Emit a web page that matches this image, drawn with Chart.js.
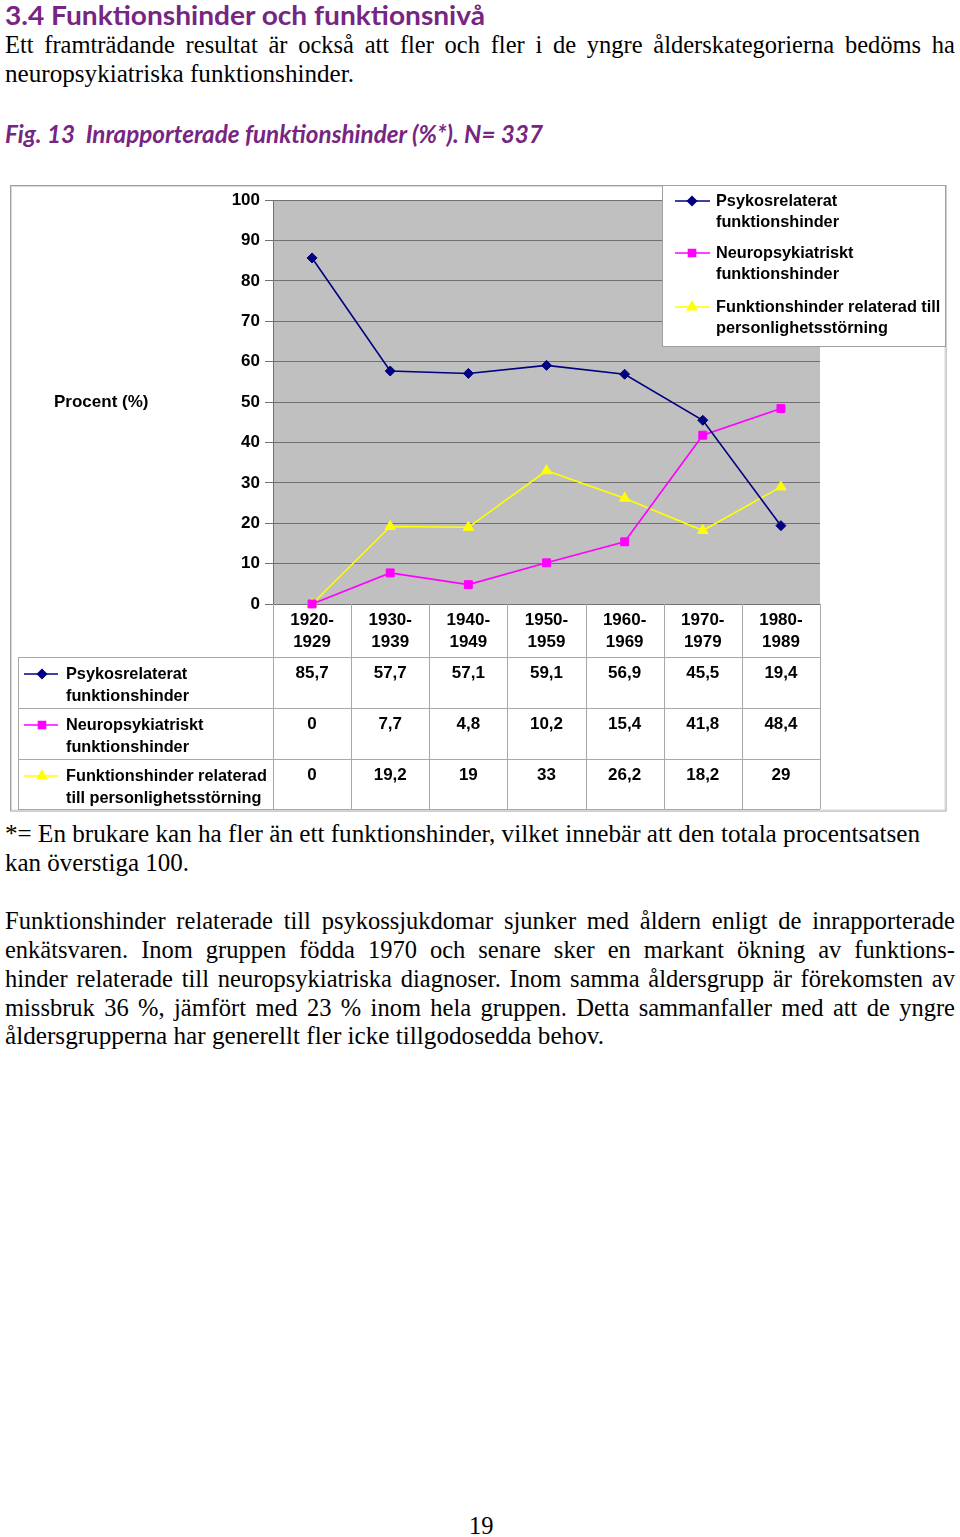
<!DOCTYPE html>
<html>
<head>
<meta charset="utf-8">
<script src="https://cdn.jsdelivr.net/npm/chart.js@4.4.0/dist/chart.umd.min.js"></script>
<style>
  html,body{margin:0;padding:0;background:#fff;}
  body{width:960px;height:1537px;position:relative;overflow:hidden;}
  .ln{position:absolute;left:5px;white-space:nowrap;line-height:1;transform-origin:0 0;}
  .serif{font-family:"Liberation Serif","Times New Roman",serif;font-size:24.5px;color:#000;}
  .head{font-family:Lato,"Open Sans",sans-serif;font-weight:700;font-size:26px;color:#772583;}
  .cap{font-family:Lato,"Open Sans",sans-serif;font-style:italic;font-weight:700;font-size:24px;color:#772583;}
  #chartBox{position:absolute;left:10px;top:185px;width:937px;height:627px;}
</style>
</head>
<body>
<div class="ln head" data-base="25" data-fit="480">3.4 Funktionshinder och funktionsnivå</div>
<div class="ln serif" data-base="54" data-just="950">Ett framträdande resultat är också att fler och fler i de yngre ålderskategorierna bedöms ha</div>
<div class="ln serif" data-base="83" data-fit="349">neuropsykiatriska funktionshinder.</div>
<div class="ln cap" data-base="143" data-fit="538">Fig. 13&nbsp; Inrapporterade funktionshinder (%*). N= 337</div>

<div id="chartBox"><canvas id="c"></canvas></div>

<div class="ln serif" data-base="843" data-fit="915">*= En brukare kan ha fler än ett funktionshinder, vilket innebär att den totala procentsatsen</div>
<div class="ln serif" data-base="872" data-fit="184">kan överstiga 100.</div>
<div class="ln serif" data-base="930" data-just="950">Funktionshinder relaterade till psykossjukdomar sjunker med åldern enligt de inrapporterade</div>
<div class="ln serif" data-base="959" data-just="950">enkätsvaren. Inom gruppen födda 1970 och senare sker en markant ökning av funktions-</div>
<div class="ln serif" data-base="988" data-just="950">hinder relaterade till neuropsykiatriska diagnoser. Inom samma åldersgrupp är förekomsten av</div>
<div class="ln serif" data-base="1017" data-just="950">missbruk 36 %, jämfört med 23 % inom hela gruppen. Detta sammanfaller med att de yngre</div>
<div class="ln serif" data-base="1045" data-fit="599">åldersgrupperna har generellt fler icke tillgodosedda behov.</div>
<div class="ln serif" data-base="1535" style="left:469px">19</div>

<script>
// ---------- DATA ----------
const categories = [["1920-","1929"],["1930-","1939"],["1940-","1949"],["1950-","1959"],["1960-","1969"],["1970-","1979"],["1980-","1989"]];
const psykosrelaterat = [85.7, 57.7, 57.1, 59.1, 56.9, 45.5, 19.4];
const neuropsykiatriskt = [0, 7.7, 4.8, 10.2, 15.4, 41.8, 48.4];
const personlighet = [0, 19.2, 19, 33, 26.2, 18.2, 29];
const legendLabels = [["Psykosrelaterat","funktionshinder"],["Neuropsykiatriskt","funktionshinder"],["Funktionshinder relaterad till","personlighetsstörning"]];
const tableLabels = [["Psykosrelaterat","funktionshinder"],["Neuropsykiatriskt","funktionshinder"],["Funktionshinder relaterad","till personlighetsstörning"]];
const yAxisLabel = "Procent (%)";
const yMin = 0, yMax = 100, yStep = 10;

// ---------- text line placement ----------
const SY = 1.05;
document.querySelectorAll('.ln').forEach(el => {
  const fs = parseFloat(getComputedStyle(el).fontSize);
  const isSerif = el.classList.contains('serif');
  const asc = isSerif ? 0.8375 * SY : 0.887;
  el.style.top = (parseFloat(el.dataset.base) - asc * fs) + 'px';
  const nat = el.getBoundingClientRect().width;
  let sx = 1;
  if (el.dataset.fit) {
    sx = parseFloat(el.dataset.fit) / nat;
  } else if (el.dataset.just) {
    const t = parseFloat(el.dataset.just);
    if (nat > t) {
      sx = t / nat;
    } else {
      el.style.width = t + 'px';
      el.style.whiteSpace = 'normal';
      el.style.textAlign = 'justify';
      el.style.textAlignLast = 'justify';
    }
  }
  const sy = isSerif ? SY : 1;
  el.style.transform = 'scale(' + sx + ',' + sy + ')';
});

// ---------- chart ----------
const FONT = '"Liberation Sans", Arial, sans-serif';
const series = [
  {name: legendLabels[0], data: psykosrelaterat, color: '#000080', style: 'rectRot', r: 5},
  {name: legendLabels[1], data: neuropsykiatriskt, color: '#FF00FF', style: 'rect', r: 5.6},
  {name: legendLabels[2], data: personlighet, color: '#FFFF00', style: 'triangle', r: 6}
];
const fmt = v => String(v).replace('.', ',');

const decor = {
  id: 'decor',
  beforeDraw(chart) {
    const {ctx, chartArea: a} = chart;
    ctx.save();
    ctx.fillStyle = '#C0C0C0';
    ctx.fillRect(a.left, a.top, a.right - a.left, a.bottom - a.top);
    ctx.restore();
  },
  afterDraw(chart) {
    const {ctx, chartArea: a} = chart;
    const xs = chart.scales.x;
    const W = chart.width, H = chart.height;
    const half = (xs.getPixelForValue(1) - xs.getPixelForValue(0)) / 2;
    ctx.save();
    // outer frame
    ctx.strokeStyle = '#A0A0A0';
    ctx.lineWidth = 1;
    ctx.strokeRect(0.5, 0.5, W - 1.5, H - 1.5);
    ctx.strokeStyle = '#D8D8D8';
    ctx.strokeRect(1.5, 1.5, W - 3.5, H - 3.5);

    // table
    const tableLeft = 8;
    const headerH = 53, rowH = 51;
    const rowTops = [0,1,2,3].map(i => a.bottom + headerH + i * rowH);
    const tableBottom = rowTops[3] - 1;
    ctx.strokeStyle = '#A8A8A8';
    ctx.lineWidth = 1;
    ctx.beginPath();
    for (let i = 0; i <= categories.length; i++) {
      const px = Math.round((i < categories.length ? xs.getPixelForValue(i) - half : xs.getPixelForValue(categories.length - 1) + half)) + 0.5;
      ctx.moveTo(px, a.bottom);
      ctx.lineTo(px, tableBottom);
    }
    for (let r = 0; r < 3; r++) {
      const py = Math.round(rowTops[r]) + 0.5;
      ctx.moveTo(tableLeft, py);
      ctx.lineTo(a.right, py);
    }
    const pb = Math.round(tableBottom) + 0.5;
    ctx.moveTo(tableLeft, pb); ctx.lineTo(a.right, pb);
    ctx.moveTo(tableLeft + 0.5, rowTops[0]); ctx.lineTo(tableLeft + 0.5, tableBottom);
    ctx.stroke();

    ctx.textBaseline = 'middle';
    series.forEach((s, r) => {
      const top = rowTops[r];
      // marker
      ctx.strokeStyle = s.color; ctx.fillStyle = s.color; ctx.lineWidth = 1.5;
      ctx.beginPath(); ctx.moveTo(14, top + 17); ctx.lineTo(48, top + 17); ctx.stroke();
      Chart.helpers.drawPoint(ctx, {pointStyle: s.style, radius: s.r * 0.9, rotation: 0, borderWidth: 1}, 32, top + 17);
      ctx.fillStyle = '#000';
      ctx.font = 'bold 16.3px ' + FONT;
      ctx.textAlign = 'left';
      ctx.fillText(tableLabels[r][0], 56, top + 18);
      ctx.fillText(tableLabels[r][1], 56, top + 40);
      ctx.textAlign = 'center';
      ctx.font = 'bold 17px ' + FONT;
      s.data.forEach((v, i) => {
        ctx.fillText(fmt(v), xs.getPixelForValue(i), top + 16);
      });
    });

    // y axis label
    ctx.font = 'bold 17px ' + FONT;
    ctx.textAlign = 'left';
    ctx.fillText(yAxisLabel, 44, 217);

    // legend box
    const lx = 652, ly = 0, lw = 283, lh = 161;
    ctx.fillStyle = '#fff';
    ctx.fillRect(lx, ly, lw, lh);
    ctx.strokeStyle = '#A0A0A0'; ctx.lineWidth = 1;
    ctx.strokeRect(lx + 0.5, ly + 0.5, lw, lh);
    const entryY = [16, 68, 122];
    ctx.font = 'bold 16.3px ' + FONT;
    series.forEach((s, r) => {
      const y = entryY[r];
      ctx.strokeStyle = s.color; ctx.fillStyle = s.color; ctx.lineWidth = 1.5;
      ctx.beginPath(); ctx.moveTo(665, y); ctx.lineTo(700, y); ctx.stroke();
      Chart.helpers.drawPoint(ctx, {pointStyle: s.style, radius: s.r * 0.9, rotation: 0, borderWidth: 1}, 682, y);
      ctx.fillStyle = '#000';
      ctx.textAlign = 'left';
      ctx.fillText(legendLabels[r][0], 706, y + 1);
      ctx.fillText(legendLabels[r][1], 706, y + 22);
    });
    ctx.restore();
  }
};

new Chart(document.getElementById('c'), {
  type: 'line',
  data: {
    labels: categories,
    datasets: series.map((s, i) => ({
      label: s.name.join(' '),
      data: s.data,
      borderColor: s.color,
      backgroundColor: s.color,
      borderWidth: 1.6,
      pointStyle: s.style,
      pointRadius: s.r,
      pointBorderWidth: 1,
      pointBackgroundColor: s.color,
      pointBorderColor: s.color,
      tension: 0,
      fill: false,
      clip: false,
      order: i
    }))
  },
  plugins: [decor],
  options: {
    responsive: true,
    maintainAspectRatio: false,
    animation: false,
    layout: {padding: {left: 213, right: 127, top: 15, bottom: 0}},
    plugins: {legend: {display: false}, tooltip: {enabled: false}, title: {display: false}},
    scales: {
      x: {
        offset: true,
        grid: {display: false, drawTicks: false},
        border: {display: true, color: '#707070', width: 1},
        ticks: {font: {family: FONT, size: 17, weight: 'bold', lineHeight: 1.3}, color: '#000', padding: 5, maxRotation: 0, autoSkip: false},
        afterFit(scale) { scale.height = 208; }
      },
      y: {
        min: yMin, max: yMax,
        grid: {color: '#707070', lineWidth: 1, tickLength: 8, drawTicks: true},
        border: {display: true, color: '#707070', width: 1},
        ticks: {stepSize: yStep, font: {family: FONT, size: 17, weight: 'bold'}, color: '#000', padding: 5},
        afterFit(scale) { scale.width = 50; }
      }
    }
  }
});
</script>
</body>
</html>
